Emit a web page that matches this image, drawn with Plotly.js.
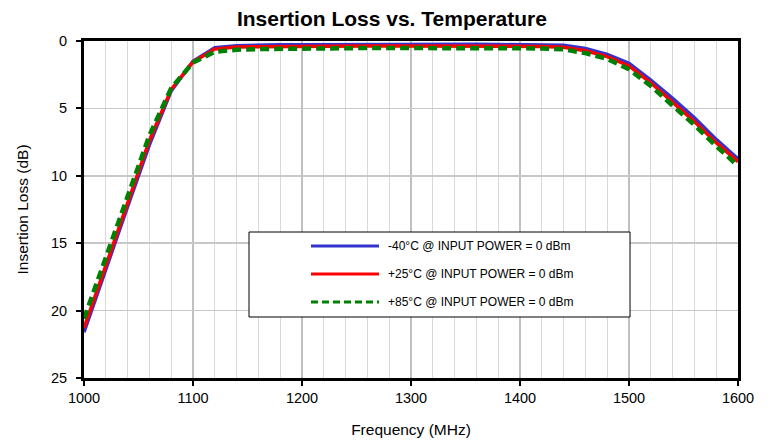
<!DOCTYPE html>
<html>
<head>
<meta charset="utf-8">
<script src="https://cdn.plot.ly/plotly-3.0.1.min.js"></script>
<style>html,body{margin:0;padding:0;background:#fff;}#chart{width:773px;height:442px;}</style>
</head>
<body>
<div id="chart"></div>
<script>
// ---- data ----
const freqMHz = [1000,1020,1040,1060,1080,1100,1120,1140,1160,1180,1200,1220,1240,1260,1280,1300,1320,1340,1360,1380,1400,1420,1440,1460,1480,1500,1520,1540,1560,1580,1600];
const lossMinus40 = [21.6,16.9,12.3,7.7,3.7,1.5,0.5,0.35,0.3,0.28,0.27,0.26,0.26,0.25,0.25,0.25,0.25,0.25,0.25,0.26,0.27,0.28,0.32,0.55,1.0,1.65,2.9,4.25,5.7,7.3,8.75];
const lossPlus25  = [21.3,16.6,12.0,7.4,3.6,1.55,0.6,0.45,0.42,0.4,0.38,0.37,0.37,0.37,0.37,0.37,0.37,0.37,0.37,0.37,0.37,0.4,0.47,0.72,1.16,1.85,3.1,4.5,5.98,7.54,8.95];
const lossPlus85  = [20.6,16.1,11.5,7.0,3.5,1.6,0.8,0.65,0.6,0.57,0.55,0.53,0.52,0.52,0.52,0.52,0.52,0.52,0.52,0.52,0.52,0.55,0.62,0.9,1.33,2.1,3.34,4.75,6.23,7.79,9.27];
const seriesNames = ["-40°C @ INPUT POWER = 0 dBm","+25°C @ INPUT POWER = 0 dBm","+85°C @ INPUT POWER = 0 dBm"];
const yTickVals = [0,5,10,15,20,25];
const xTickVals = [1000,1100,1200,1300,1400,1500,1600];

// ---- styles ----
const FONT = "Liberation Sans, Arial, sans-serif";
const colors = ["#3333cc","#ff0000","#008000"];
const widths = [3.5,3.5,4.5];
const dashes = ["solid","solid","9px,5px"];
const seriesY = [lossMinus40, lossPlus25, lossPlus85];

const traces = seriesY.map((y,i)=>({
  x: freqMHz, y: y, type: "scatter", mode: "lines", name: seriesNames[i],
  line: {color: colors[i], width: widths[i], dash: dashes[i]},
  showlegend: false
}));

// custom legend (box + samples + labels) in paper coordinates
const legBox = {x0:0.2523, x1:0.8349, y0:0.181, y1:0.4332};
const legRows = [0.3917, 0.3086, 0.2255];
const shapes = [{type:"rect", xref:"paper", yref:"paper", x0:legBox.x0, x1:legBox.x1, y0:legBox.y0, y1:legBox.y1,
  fillcolor:"#ffffff", line:{color:"#000000", width:1}, layer:"above"}];
const annotations = [];
legRows.forEach((ry,i)=>{
  shapes.push({type:"line", xref:"paper", yref:"paper", x0:0.3471, x1:0.4511, y0:ry, y1:ry,
    line:{color:colors[i], width:3, dash: i===2?"7px,4px":"solid"}, layer:"above"});
  annotations.push({xref:"paper", yref:"paper", x:0.4618, y:ry, xanchor:"left", yanchor:"middle",
    text: seriesNames[i], showarrow:false, font:{family:FONT, size:12, color:"#000"}});
});

const layout = {
  width: 773, height: 442,
  margin: {l:84, r:35, t:41, b:64},
  paper_bgcolor:"#ffffff", plot_bgcolor:"#ffffff",
  font: {family: FONT, color:"#000"},
  title: {text:"Insertion Loss vs. Temperature", font:{family:FONT, size:21, weight:"bold", color:"#000"},
    xref:"container", x:0.507, xanchor:"center", yref:"container", y:0.957, yanchor:"middle"},
  xaxis: {
    range:[1000,1600], tickmode:"array", tickvals:xTickVals, ticktext:xTickVals.map(String),
    showline:true, linecolor:"#000", linewidth:3, mirror:true,
    ticks:"outside", ticklen:5, tickwidth:2, tickcolor:"#000",
    showgrid:true, gridcolor:"#c0c0c0", gridwidth:2,
    minor:{dtick:20, tick0:1000, showgrid:true, gridcolor:"#d9d9d9", gridwidth:1},
    zeroline:false, tickfont:{family:FONT, size:14.5, color:"#000"},
    title:{text:"Frequency (MHz)", font:{family:FONT, size:15.5, color:"#000"}, standoff:19}
  },
  yaxis: {
    range:[25,0], tickmode:"array", tickvals:yTickVals, ticktext:yTickVals.map(String),
    showline:true, linecolor:"#000", linewidth:3, mirror:true,
    ticks:"outside", ticklen:5, tickwidth:2, tickcolor:"#000", ticklabelstandoff:6,
    showgrid:true, gridcolor:"#c8c8c8", gridwidth:1.5,
    zeroline:false, tickfont:{family:FONT, size:14.5, color:"#000"},
    title:{text:"Insertion Loss (dB)", font:{family:FONT, size:15.5, color:"#000"}, standoff:19}
  },
  shapes: shapes,
  annotations: annotations,
  showlegend: false
};

Plotly.newPlot("chart", traces, layout, {displayModeBar:false, staticPlot:true});
</script>
</body>
</html>
